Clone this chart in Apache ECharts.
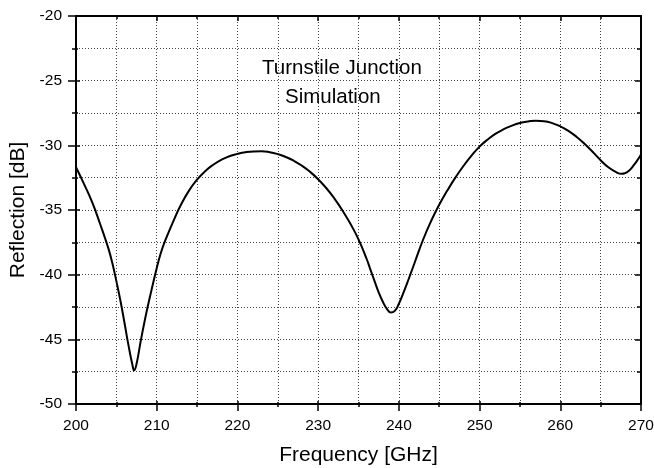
<!DOCTYPE html>
<html>
<head>
<meta charset="utf-8">
<title>Turnstile Junction Simulation</title>
<script src="https://cdn.jsdelivr.net/npm/echarts@6.0.0/dist/echarts.min.js"></script>
<style>
  html, body { margin: 0; padding: 0; background: #fff; }
  #chart { width: 654px; height: 468px; }
</style>
</head>
<body>
<div id="chart"></div>
<script>
// frequency [GHz] and reflection [dB]
const freq = [
  200, 201, 202, 203, 204, 204.5, 205, 205.5, 206, 206.5,
  207, 207.2, 207.5, 208, 208.5, 209, 209.5, 210, 210.5, 211,
  212, 213, 214, 215, 216, 217, 218, 219, 220, 221,
  222, 223, 224, 225, 226, 227, 228, 229, 230, 231,
  232, 233, 234, 235, 236, 236.5, 237, 237.5, 238, 238.5,
  239, 239.5, 240, 240.5, 241, 241.5, 242, 243, 244, 245,
  246, 247, 248, 249, 250, 251, 252, 253, 254, 255,
  256, 257, 258, 259, 260, 261, 262, 263, 264, 265,
  266, 267, 267.6, 268, 268.5, 269, 269.5, 270
];
const reflection = [
  -31.7, -33.0, -34.4, -36.1, -37.95, -39.1, -40.5, -42.0, -43.7, -45.45,
  -47.0, -47.4, -46.9, -45.2, -43.6, -42.15, -40.8, -39.5, -38.35, -37.45,
  -35.95, -34.6, -33.5, -32.65, -32.0, -31.5, -31.12, -30.84, -30.66, -30.53,
  -30.47, -30.46, -30.53, -30.68, -30.9, -31.2, -31.58, -32.05, -32.62, -33.3,
  -34.1, -35.02, -36.07, -37.27, -38.77, -39.65, -40.52, -41.37, -42.08, -42.63,
  -42.93, -42.8, -42.25, -41.5, -40.7, -39.85, -39.0, -37.3, -35.85, -34.6,
  -33.5, -32.5, -31.6, -30.8, -30.1, -29.55, -29.1, -28.75, -28.48, -28.28,
  -28.16, -28.09, -28.13, -28.28, -28.53, -28.88, -29.33, -29.88, -30.5, -31.15,
  -31.72, -32.1, -32.2, -32.16, -31.97, -31.62, -31.2, -30.7
];

const xRange = { min: 200, max: 270, interval: 10 };
const yRange = { min: -50, max: -20, interval: 5 };

const fontFamily = '"Liberation Sans", Arial, Helvetica, sans-serif';
const dotted = { type: [1, 2], color: '#444', width: 1 };

const chart = echarts.init(document.getElementById('chart'));

// frame axis without labels (used for the top/right edges and the inner half of ticks)
function frameAxis(range, position, showLine, tickLen, minorLen) {
  return {
    type: 'value',
    position: position,
    min: range.min,
    max: range.max,
    interval: range.interval,
    axisLine: { show: showLine, onZero: false, lineStyle: { color: '#000', width: 2 } },
    axisTick: { show: true, inside: true, length: tickLen, lineStyle: { color: '#000', width: 1.5 } },
    minorTick: { show: true, splitNumber: 2, length: minorLen, lineStyle: { color: '#000', width: 1.5 } },
    axisLabel: { show: false },
    splitLine: { show: false }
  };
}

const option = {
  animation: false,
  textStyle: { fontFamily: fontFamily },
  grid: { left: 76, right: 13, top: 16, bottom: 64, containLabel: false, outerBoundsMode: 'none' },
  xAxis: [
    {
      type: 'value',
      position: 'bottom',
      min: xRange.min,
      max: xRange.max,
      interval: xRange.interval,
      name: 'Frequency [GHz]',
      nameLocation: 'middle',
      nameGap: 41,
      nameTextStyle: { fontSize: 21, color: '#000', fontFamily: fontFamily },
      axisLine: { show: true, onZero: false, lineStyle: { color: '#000', width: 2 } },
      axisTick: { show: true, inside: false, length: 7, lineStyle: { color: '#000', width: 1.5 } },
      minorTick: { show: true, splitNumber: 2, length: 3, lineStyle: { color: '#000', width: 1.5 } },
      axisLabel: { fontSize: 15.5, color: '#000', margin: 14, fontFamily: fontFamily },
      splitLine: { show: true, lineStyle: dotted },
      minorSplitLine: { show: true, lineStyle: dotted }
    },
    frameAxis(xRange, 'top', true, 5, 3),
    frameAxis(xRange, 'bottom', false, 3, 2)
  ],
  yAxis: [
    {
      type: 'value',
      position: 'left',
      min: yRange.min,
      max: yRange.max,
      interval: yRange.interval,
      name: 'Reflection [dB]',
      nameLocation: 'middle',
      nameGap: 46,
      nameTextStyle: { fontSize: 21, color: '#000', fontFamily: fontFamily },
      axisLine: { show: true, onZero: false, lineStyle: { color: '#000', width: 2 } },
      axisTick: { show: true, inside: false, length: 8, lineStyle: { color: '#000', width: 1.5 } },
      minorTick: { show: true, splitNumber: 2, length: 4, lineStyle: { color: '#000', width: 1.5 } },
      axisLabel: { fontSize: 15.5, color: '#000', margin: 14, fontFamily: fontFamily },
      splitLine: { show: true, lineStyle: dotted },
      minorSplitLine: { show: true, lineStyle: dotted }
    },
    frameAxis(yRange, 'right', true, 6, 4),
    frameAxis(yRange, 'left', false, 4, 2)
  ],
  graphic: [
    {
      type: 'text',
      left: 262,
      top: 58,
      style: { text: 'Turnstile Junction', font: '20.5px ' + fontFamily, fill: '#000' }
    },
    {
      type: 'text',
      left: 285,
      top: 87,
      style: { text: 'Simulation', font: '20.5px ' + fontFamily, fill: '#000' }
    }
  ],
  series: [
    {
      type: 'line',
      xAxisIndex: 0,
      yAxisIndex: 0,
      data: freq.map((f, i) => [f, reflection[i]]),
      smooth: 0.5,
      showSymbol: false,
      lineStyle: { color: '#000', width: 2 }
    }
  ]
};

chart.setOption(option);
</script>
</body>
</html>
